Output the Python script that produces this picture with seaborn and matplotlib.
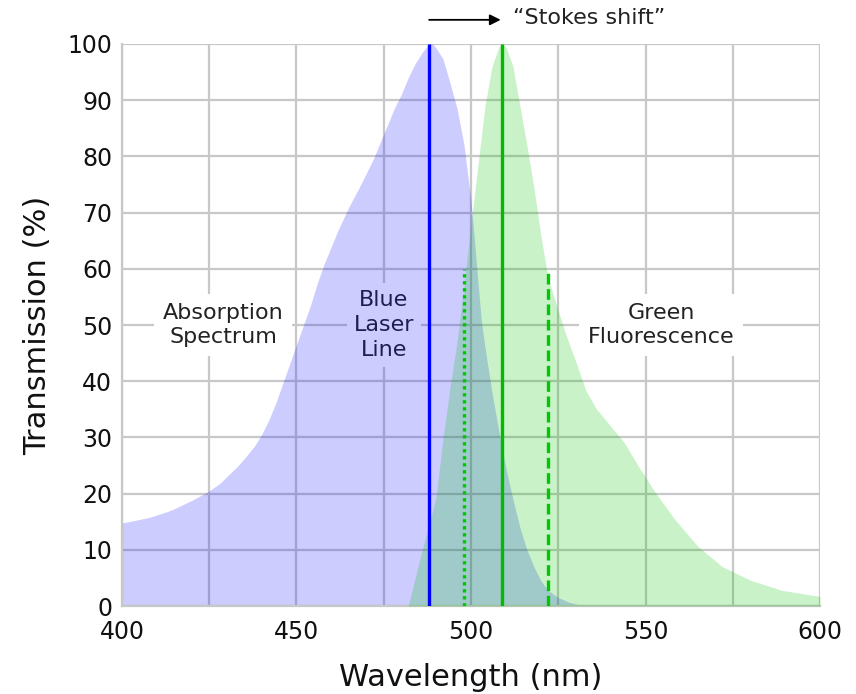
import numpy as np
import matplotlib
matplotlib.use("Agg")
import matplotlib.pyplot as plt
from matplotlib.ticker import MultipleLocator
import seaborn as sns

# ---- data ----
abs_nm = [400, 402, 405, 408, 410, 413, 415, 418, 420, 423, 425, 428, 430, 433,
          435, 438, 440, 442, 444, 446, 448, 450, 452, 454, 456, 458, 460, 462,
          465, 468, 470, 472, 475, 478, 480, 482, 484, 486, 488, 489, 490, 492,
          494, 496, 498, 500, 501, 502, 503, 504, 506, 508, 510, 512, 514, 516,
          518, 520, 522, 525, 528, 531, 535, 600]
abs_pct = [14.8, 15.0, 15.4, 15.8, 16.2, 16.8, 17.3, 18.2, 18.8, 19.8, 20.5, 21.8,
           23.0, 24.8, 26.2, 28.5, 30.5, 33.0, 36.0, 39.5, 43.0, 46.5, 50.0, 53.5,
           57.5, 61.0, 64.0, 67.0, 71.0, 74.5, 77.0, 79.5, 84.0, 88.5, 91.0, 94.0,
           96.5, 98.5, 100.0, 100.0, 99.3, 97.3, 93.0, 88.5, 82.0, 72.0, 65.0,
           57.5, 50.5, 46.0, 38.0, 31.0, 24.5, 19.0, 14.0, 10.0, 7.0, 4.5, 2.8,
           1.5, 0.7, 0.2, 0.0, 0.0]

em_nm = [482, 484, 486, 488, 490, 492, 494, 496, 498, 500, 502, 504, 506, 508,
         509, 510, 512, 514, 516, 518, 520, 522, 524, 527, 530, 533, 536, 540,
         544, 548, 553, 558, 565, 572, 580, 589, 600]
em_pct = [0.0, 5.0, 10.0, 14.5, 19.5, 30.0, 39.0, 47.0, 57.0, 68.0, 78.5, 89.0,
          96.0, 99.5, 100.0, 99.5, 96.0, 89.0, 82.0, 74.5, 66.0, 58.5, 54.5, 48.6,
          43.5, 38.2, 35.0, 32.0, 29.0, 24.8, 20.0, 15.7, 10.6, 7.0, 4.6, 2.8, 1.7]

laser_nm, laser_pct = 488, 100
peak_nm, peak_pct = 509, 100
dotted_nm, dashed_nm, filter_pct = 498, 522, 60

x_ticks = [400, 450, 500, 550, 600]
y_ticks = list(range(0, 101, 10))

# ---- style ----
sns.set_theme(style="whitegrid")
plt.rcParams["font.family"] = ["DejaVu Sans"]

fig = plt.figure(figsize=(8.56, 6.94), dpi=100)
ax = fig.add_axes([0.1425, 0.1268, 0.958 - 0.1425, 0.9366 - 0.1268])

grid_c = "#c8c8c8"
ax.set_axisbelow(True)
ax.grid(True, which="both", color=grid_c, linewidth=1.6)

ax.fill_between(abs_nm, abs_pct, 0, color=(0.0, 0.0, 1.0), alpha=0.2, linewidth=0, zorder=2)
ax.fill_between(em_nm, em_pct, 0, color=(0.0, 0.76, 0.0), alpha=0.21, linewidth=0, zorder=3)

ax.vlines([laser_nm], 0, [laser_pct], color="#0000ff", linewidth=2.4, zorder=5)
ax.vlines([peak_nm], 0, [peak_pct], color="#00bb00", linewidth=2.4, zorder=5)
ax.vlines([dotted_nm], 0, [filter_pct], color="#00c800", linewidth=2.4,
          linestyles=(0, (1, 1.1)), zorder=5)
ax.vlines([dashed_nm], 0, [filter_pct], color="#00c800", linewidth=2.4,
          linestyles=(0, (3.2, 1.4)), zorder=5)

ax.set_xlim(400, 600)
ax.set_ylim(0, 100)
ax.set_xticks(x_ticks)
ax.xaxis.set_minor_locator(MultipleLocator(25))
ax.set_yticks(y_ticks)
ax.tick_params(axis="both", which="both", length=0, labelsize=17, colors="#111111")
ax.tick_params(axis="x", pad=10)
ax.tick_params(axis="y", pad=7)

for s in ["top", "right"]:
    ax.spines[s].set_visible(False)
for s in ["left", "bottom"]:
    ax.spines[s].set_color(grid_c)
    ax.spines[s].set_linewidth(1.6)

ax.set_xlabel("Wavelength (nm)", fontsize=22, color="#111111", labelpad=14)
ax.set_ylabel("Transmission (%)", fontsize=22, color="#111111", labelpad=11)

txt_c = "#222222"
ax.text(429, 50, "Absorption\nSpectrum", ha="center", va="center", fontsize=16,
        color=txt_c, linespacing=1.3, zorder=6,
        bbox=dict(facecolor="white", edgecolor="none", pad=6))
ax.text(475, 50, "Blue\nLaser\nLine", ha="center", va="center", fontsize=16,
        color="#1e1e50", linespacing=1.3, zorder=6,
        bbox=dict(facecolor="#ccccff", edgecolor="none", pad=5))
ax.text(554.5, 50, "Green\nFluorescence", ha="center", va="center", fontsize=16,
        color=txt_c, linespacing=1.3, zorder=6,
        bbox=dict(facecolor="white", edgecolor="none", pad=6))

# Stokes shift arrow above the plot
ax.annotate("", xy=(peak_nm - 0.5, 104.3), xytext=(laser_nm, 104.3),
            arrowprops=dict(arrowstyle="-|>", color="black", lw=1.3,
                            mutation_scale=16, shrinkA=0, shrinkB=0),
            annotation_clip=False)
ax.text(512, 104.6, "\u201cStokes shift\u201d", ha="left", va="center",
        fontsize=16, color=txt_c, clip_on=False)

fig.savefig("out.png", dpi=100)
